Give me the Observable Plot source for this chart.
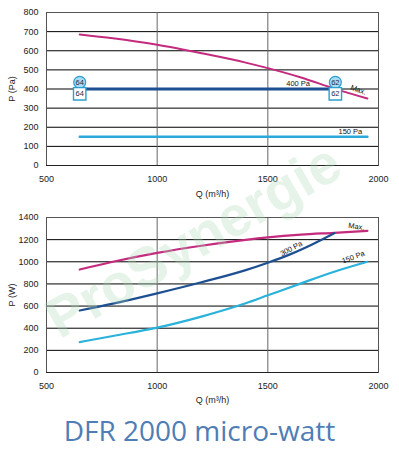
<!DOCTYPE html>
<html><head><meta charset="utf-8">
<script src="https://cdn.jsdelivr.net/npm/d3@7"></script>
<script src="https://cdn.jsdelivr.net/npm/@observablehq/plot@0.6"></script>
<style>
body{margin:0;background:#fff;}
#wrap{position:relative;width:399px;height:460px;overflow:hidden;}
#title{position:absolute;left:0;top:411px;width:399px;text-align:center;font-family:"Open Sans",sans-serif;font-size:28px;color:#4f7db6;}
#wm{position:absolute;left:50px;top:290px;font-family:"Liberation Sans",Arial,sans-serif;font-weight:bold;font-size:56px;color:rgba(170,215,180,0.3);transform:rotate(-30deg);transform-origin:left center;pointer-events:none;white-space:nowrap;}
svg{display:block;}
</style></head>
<body><div id="wrap"><div id="charts"></div><div id="title">DFR 2000 micro-watt</div><div id="wm">ProSynergie</div></div>
<script>
// Top chart: pressure
const qTopMax = [650,800,1000,1200,1400,1500,1650,1800,1950];
const pTopMax = [685,665,631,587,538,509,460,402,350];
const q400 = [645,1805];
const p400 = [400,400];
const q150 = [650,1950];
const p150 = [150,150];
const markerQ = [650,650,1805,1805];
const markerP = [435,375,435,375];
const markerText = ["64","64","62","62"];
const markerShape = ["circle","square","circle","square"];
const topLabels = ["400 Pa","150 Pa","Max."];
const topLabelQ = [1637,1873,1909];
const topLabelP = [429,178,395];
const topLabelRot = [0,0,20];
const topYTicks = [0,100,200,300,400,500,600,700,800];

// Bottom chart: power
const qBotMax = [650,800,1000,1200,1400,1500,1650,1800,1950];
const wBotMax = [930,1000,1080,1145,1198,1220,1245,1262,1280];
const qBot300 = [650,800,1000,1200,1400,1500,1600,1700,1800];
const wBot300 = [560,622,715,815,925,992,1067,1157,1258];
const qBot150 = [650,800,1000,1200,1400,1500,1650,1800,1950];
const wBot150 = [275,330,405,505,625,697,805,910,1000];
const botLabels = ["Max.","300 Pa","150 Pa"];
const botLabelQ = [1900,1606,1886];
const botLabelW = [1318,1119,1041];
const botLabelRot = [8,-28,-20];
const botYTicks = [0,200,400,600,800,1000,1200,1400];
const xTicks = [500,1000,1500,2000];

const zip = (xs, ys) => xs.map((x,i)=>({x, y: ys[i]}));
const MAG = "#c42a7e", DARK = "#1d4f91", LIGHT = "#2aa9dc";
const font = "Liberation Sans, Arial, sans-serif";
const fmt = d3.format("d");

function commonMarks(yTicks){
  return [
    Plot.gridY(yTicks, {stroke:"#000", strokeOpacity:1, strokeWidth:1}),
    Plot.gridX([1000,1500], {stroke:"#666", strokeOpacity:1, strokeWidth:1}),
    Plot.frame({stroke:"#555", strokeWidth:1}),
    Plot.ruleY([0], {stroke:"#222"})
  ];
}

const markers = markerQ.map((q,i)=>({q, p:markerP[i], s:markerShape[i], t:markerText[i]}));

const chartTop = Plot.plot({
  width: 399, height: 200,
  marginLeft: 46, marginRight: 21, marginTop: 12, marginBottom: 35,
  style: {fontFamily: font, fontSize: "9px", color:"#222", background:"transparent"},
  x: {domain:[500,2000], ticks: xTicks, tickFormat: fmt, tickSize:0, tickPadding:10, label:"Q (m³/h)", labelAnchor:"center", labelArrow:"none", labelOffset:31},
  y: {domain:[0,800], ticks: topYTicks, tickFormat: fmt, tickSize:0, tickPadding:8, label:"P (Pa)", labelAnchor:"center", labelArrow:"none", labelOffset:38},
  marks: [
    ...commonMarks(topYTicks),
    Plot.line(zip(qTopMax,pTopMax), {x:"x", y:"y", stroke:MAG, strokeWidth:2, curve:"monotone-x"}),
    Plot.line(zip(q400,p400), {x:"x", y:"y", stroke:DARK, strokeWidth:3.2}),
    Plot.line(zip(q150,p150), {x:"x", y:"y", stroke:LIGHT, strokeWidth:2.4}),
    Plot.dot(markers.filter(d=>d.s==="circle"), {x:"q", y:"p", r:6, symbol:"circle", fill:"#a9dcf2", stroke:"#2a9fd0", strokeWidth:1.2}),
    Plot.dot(markers.filter(d=>d.s==="square"), {x:"q", y:"p", r:7, symbol:"square", fill:"#fff", stroke:"#2a9fd0", strokeWidth:1.4}),
    Plot.text(markers, {x:"q", y:"p", text:"t", fontSize:7.5, fill:"#1a2a4a"}),
    Plot.text(topLabels.map((t,i)=>({t, q:topLabelQ[i], p:topLabelP[i], r:topLabelRot[i]})), {x:"q", y:"p", text:"t", rotate:"r", fontSize:7.5, fill:"#111"})
  ]
});

const chartBottom = Plot.plot({
  width: 399, height: 210,
  marginLeft: 46, marginRight: 21, marginTop: 17, marginBottom: 38,
  style: {fontFamily: font, fontSize: "9px", color:"#222", background:"transparent"},
  x: {domain:[500,2000], ticks: xTicks, tickFormat: fmt, tickSize:0, tickPadding:10, label:"Q (m³/h)", labelAnchor:"center", labelArrow:"none", labelOffset:30},
  y: {domain:[0,1400], ticks: botYTicks, tickFormat: fmt, tickSize:0, tickPadding:8, label:"P (W)", labelAnchor:"center", labelArrow:"none", labelOffset:38},
  marks: [
    ...commonMarks(botYTicks),
    Plot.line(zip(qBotMax,wBotMax), {x:"x", y:"y", stroke:MAG, strokeWidth:2.2, curve:"monotone-x"}),
    Plot.line(zip(qBot300,wBot300), {x:"x", y:"y", stroke:DARK, strokeWidth:2.2, curve:"monotone-x"}),
    Plot.line(zip(qBot150,wBot150), {x:"x", y:"y", stroke:"#2ab2db", strokeWidth:2.2, curve:"monotone-x"}),
    Plot.text(botLabels.map((t,i)=>({t, q:botLabelQ[i], w:botLabelW[i], r:botLabelRot[i]})), {x:"q", y:"w", text:"t", rotate:"r", fontSize:7.5, fill:"#111"})
  ]
});

document.getElementById("charts").append(chartTop, chartBottom);
</script></body></html>
